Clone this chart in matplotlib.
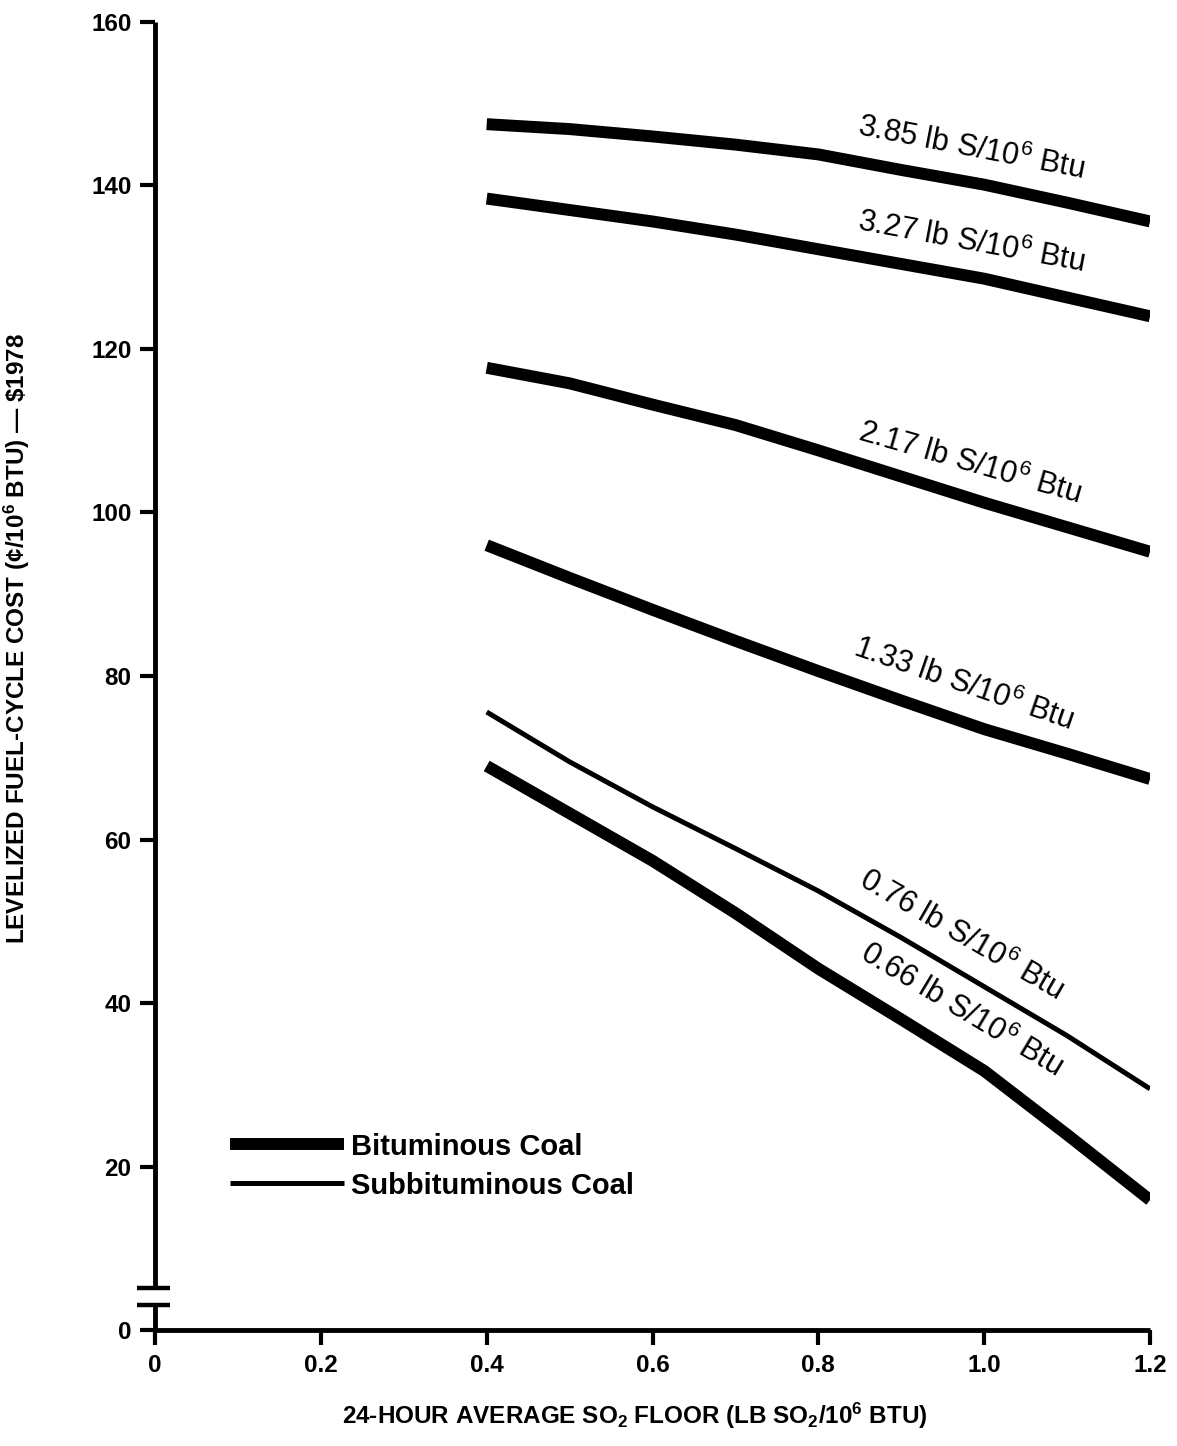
import matplotlib
matplotlib.use("Agg")
import matplotlib.pyplot as plt

plt.rcParams["font.family"] = ["Liberation Sans", "DejaVu Sans"]
plt.rcParams["mathtext.fontset"] = "custom"
plt.rcParams["mathtext.rm"] = "Liberation Sans"
plt.rcParams["mathtext.it"] = "Liberation Sans"
plt.rcParams["mathtext.bf"] = "Liberation Sans:bold"

# SO2 floor (lb SO2/10^6 Btu)
so2_floor = [0.4, 0.5, 0.6, 0.7, 0.8, 0.9, 1.0, 1.1, 1.2]

# levelized fuel-cycle cost, cents/10^6 Btu ($1978), by coal sulfur content
cost_385 = [147.5, 146.9, 146.0, 145.0, 143.8, 141.9, 140.1, 137.9, 135.6]
cost_327 = [138.4, 137.0, 135.6, 134.0, 132.2, 130.4, 128.6, 126.3, 124.0]
cost_217 = [117.7, 115.8, 113.2, 110.7, 107.6, 104.4, 101.2, 98.2, 95.2]
cost_133 = [96.0, 92.0, 88.1, 84.3, 80.6, 77.0, 73.5, 70.5, 67.4]
cost_076 = [75.6, 69.5, 64.0, 58.9, 53.7, 48.0, 42.0, 36.0, 29.5]
cost_066 = [69.0, 63.2, 57.4, 51.0, 44.2, 38.0, 31.7, 23.9, 15.9]

sulfur_labels = ["3.85", "3.27", "2.17", "1.33", "0.76", "0.66"]
coal_type = ["bit", "bit", "bit", "bit", "sub", "bit"]
series = [cost_385, cost_327, cost_217, cost_133, cost_076, cost_066]

# label anchor (data coords) and rotation for each curve
label_pos = [(0.846, 146.2, -11), (0.846, 134.6, -10.5), (0.846, 108.9, -16),
             (0.840, 82.5, -19), (0.846, 54.4, -30), (0.848, 45.5, -31)]

THICK = 8.6
THIN = 3.6

fig = plt.figure(figsize=(11.77, 14.46), dpi=100)
ax = fig.add_axes([0.1317, 0.0802, 0.8454, 0.9046])

handles = {}
for vals, kind in zip(series, coal_type):
    lw = THICK if kind == "bit" else THIN
    (ln,) = ax.plot(so2_floor, vals, color="black", lw=lw, solid_capstyle="butt",
                    solid_joinstyle="round")
    handles.setdefault(kind, ln)

for lab, (lx, ly, rot) in zip(sulfur_labels, label_pos):
    ax.text(lx, ly, lab + r" lb S/10$^{6}$ Btu", fontsize=22, rotation=rot,
            rotation_mode="anchor", ha="left", va="baseline")

ax.legend([handles["bit"], handles["sub"]], ["Bituminous Coal", "Subbituminous Coal"],
          loc="upper left", bbox_to_anchor=(0.0754, 0.151), frameon=False,
          borderpad=0, borderaxespad=0, handlelength=3.9, handletextpad=0.25,
          labelspacing=0.38, prop={"weight": "bold", "size": 21})

ax.set_xlim(0, 1.2)
ax.set_ylim(0, 160)
ax.set_xticks([0, 0.2, 0.4, 0.6, 0.8, 1.0, 1.2])
ax.set_xticklabels(["0", "0.2", "0.4", "0.6", "0.8", "1.0", "1.2"])
ax.set_yticks(range(0, 161, 20))

for side in ("top", "right"):
    ax.spines[side].set_visible(False)
for side in ("left", "bottom"):
    ax.spines[side].set_linewidth(3.5)
    ax.spines[side].set_capstyle("butt")
ax.spines["left"].set_bounds(5.1, 160)
ax.spines["bottom"].set_bounds(0, 1.2)

# broken y axis below 5
ax.plot([0, 0], [0, 3.1], color="black", lw=3.5, clip_on=False, solid_capstyle="butt")
for yb in (5.1, 3.1):
    ax.plot([-0.022, 0.018], [yb, yb], color="black", lw=3.2, clip_on=False,
            solid_capstyle="butt")

ax.tick_params(direction="out", length=11, width=3, pad=6, labelsize=17.5)
for lbl in ax.get_xticklabels() + ax.get_yticklabels():
    lbl.set_fontweight("bold")

ax.set_xlabel(r"24-HOUR AVERAGE SO$_\mathbf{2}$ FLOOR (LB SO$_\mathbf{2}$/10$^\mathbf{6}$ BTU)",
              fontsize=17.5, fontweight="bold")
ax.xaxis.set_label_coords(0.482, -0.054)
ax.set_ylabel(r"LEVELIZED FUEL-CYCLE COST (¢/10$^\mathbf{6}$ BTU) — \$1978",
              fontsize=17.5, fontweight="bold")
ax.yaxis.set_label_coords(-0.1236, 0.529)

fig.savefig("out.png", dpi=100)
